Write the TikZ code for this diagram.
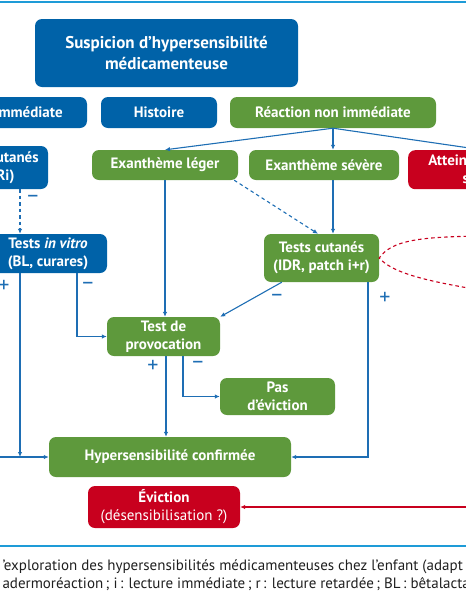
\documentclass[tikz,border=0pt]{standalone}
\usepackage{fontspec}
\setmainfont{PT Sans}
\usetikzlibrary{arrows.meta}
\definecolor{hsblue}{RGB}{0,98,168}
\definecolor{hsgreen}{RGB}{94,153,60}
\definecolor{hsred}{RGB}{200,0,30}
\definecolor{hsline}{RGB}{30,110,180}
\definecolor{hsrule}{RGB}{30,155,215}
\tikzset{
  every node/.style={font=\fontsize{15}{18}\selectfont\bfseries, text=white},
  box/.style={rounded corners=7pt, inner sep=2pt, align=center},
  bluebox/.style={box, fill=hsblue},
  greenbox/.style={box, fill=hsgreen},
  redbox/.style={box, fill=hsred},
  link/.style={-{Latex[length=5pt,width=4.5pt]}, line width=1.1pt, hsline},
  dlink/.style={link, dashed, dash pattern=on 3.5pt off 3pt},
  redlink/.style={-{Latex[length=5pt,width=4.5pt]}, line width=1.1pt, hsred},
  sign/.style={text=hsline, font=\fontsize{22}{22}\selectfont},
}

\begin{document}
\begin{tikzpicture}[x=1pt,y=-1pt]
  \useasboundingbox (0,0) rectangle (466,600);
  \draw[hsrule, line width=2pt] (-5,1.5) -- (471,1.5);
  \draw[hsrule, line width=2pt] (-5,546) -- (471,546);

  % top rows
  \node[bluebox, minimum width=263pt, minimum height=68pt, font=\fontsize{17}{20.5}\selectfont\bfseries] (susp) at (166.5,53) {Suspicion d’hypersensibilité\\médicamenteuse};
  \node[bluebox, minimum width=176pt, minimum height=31pt] (immed) at (-1,112.5) {Réaction immédiate};
  \node[bluebox, minimum width=116pt, minimum height=31pt] (hist) at (159,112.5) {Histoire};
  \node[greenbox, minimum width=206pt, minimum height=31pt] (nonimm) at (333,112.5) {Réaction non immédiate};

  \node[bluebox, minimum width=104pt, minimum height=43pt] (idri) at (-4,167.5) {Tests cutanés\\(IDRi)};
  \node[greenbox, minimum width=146pt, minimum height=30pt] (exleg) at (165,165) {Exanthème léger};
  \node[greenbox, minimum width=150pt, minimum height=30pt] (exsev) at (324,165) {Exanthème sévère};
  \node[redbox, anchor=north west, minimum width=150pt, minimum height=39pt] (organe) at (408,150) {Atteinte d’organe\\sévère};

  \node[bluebox, minimum width=118pt, minimum height=39pt] (vitro) at (48,253.5) {Tests \textit{in vitro}\\(BL, curares)};
  \node[greenbox, minimum width=115pt, minimum height=48pt] (tcut) at (321.5,258) {Tests cutanés\\(IDR, patch i+r)};
  \node[greenbox, minimum width=113pt, minimum height=39pt] (provoc) at (163.5,336.5) {Test de\\provocation};
  \node[greenbox, minimum width=115pt, minimum height=37pt] (pasev) at (277.5,396.5) {Pas\\d’éviction};
  \node[greenbox, minimum width=242pt, minimum height=40pt] (hyper) at (170,457) {Hypersensibilité confirmée};
  \node[redbox, minimum width=152pt, minimum height=42pt, font=\fontsize{15}{18}\selectfont] (evic) at (164,507) {\textbf{Éviction}\\(désensibilisation ?)};

  % free ends
  \coordinate (leftin) at (-10,457);
  \coordinate (rightin) at (480,507);
  \coordinate (upout) at (480,236);
  \coordinate (downout) at (480,290);

  % connectors
  \draw[link] (nonimm.south) -- (exleg.north);
  \draw[link] (nonimm.south) -- (nonimm.south |- exsev.north);
  \draw[link] (nonimm.south) -- (organe.north);
  \draw[dlink] ([xshift=24pt]idri.south) -- ([xshift=24pt]idri.south |- vitro.north);
  \draw[link] ([xshift=-28pt]vitro.south) -- ([xshift=-28pt]vitro.south |- hyper.west);
  \draw[link] (leftin) -- (hyper.west);
  \draw[link] ([xshift=29pt]vitro.south) |- (provoc.west);
  \draw[link] (exleg.south) -- (exleg.south |- provoc.north);
  \draw[link] (nonimm.south |- exsev.south) -- (nonimm.south |- tcut.north);
  \draw[dlink] ([xshift=-4pt]exleg.south east) -- ([xshift=-3.5pt]tcut.north);
  \draw[link] ([xshift=18pt]tcut.south west) -- (provoc.north east);
  \draw[link] ([xshift=46.5pt]tcut.south) |- (hyper.east);
  \draw[link] ([xshift=2.5pt]provoc.south) -- ([xshift=2.5pt]provoc.south |- hyper.north);
  \draw[link] ([xshift=19.5pt]provoc.south) |- (pasev.west);
  \draw[redlink] (rightin) -- (evic.east);
  \draw[hsred, line width=1.1pt, dash pattern=on 3.5pt off 3pt] (upout) .. controls (420,237) and (392,240) .. (tcut.east) .. controls (392,272) and (420,280) .. (downout);

  % signs
  \node[sign] (m1) at (33,199) {–};
  \node[sign] (p1) at (4,286) {+};
  \node[sign] (m2) at (88,286) {–};
  \node[sign] (p2) at (153,366) {+};
  \node[sign] (m3) at (198,365) {–};
  \node[sign] (m4) at (277,298) {–};
  \node[sign] (p3) at (385,298) {+};

  % caption
  \node[anchor=west, align=left, text=black!88, font=\fontsize{15}{18}\selectfont] (cap) at (-1,575) {’exploration des hypersensibilités médicamenteuses chez l’enfant (adapt\\adermoréaction\,; i\,: lecture immédiate\,; r\,: lecture retardée\,; BL\,: bêtalacta};
\end{tikzpicture}
\end{document}
